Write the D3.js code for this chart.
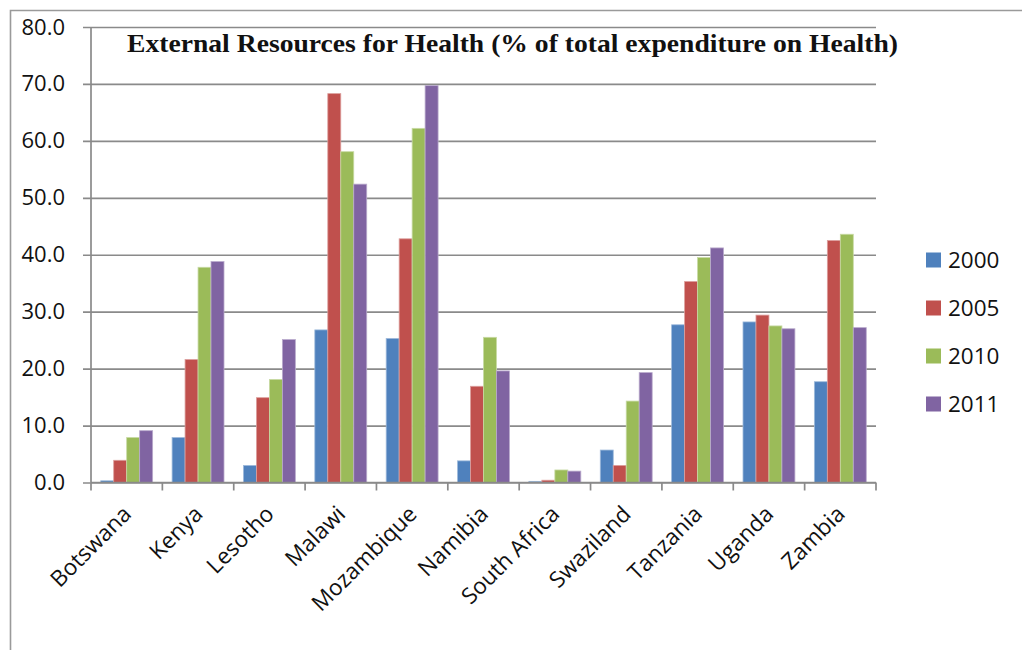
<!DOCTYPE html>
<html>
<head>
<meta charset="utf-8">
<script src="https://cdn.jsdelivr.net/npm/d3@7"></script>
<style>
  html, body { margin: 0; padding: 0; background: #fff; }
  svg { display: block; }
</style>
</head>
<body>
<svg id="chart" width="1022" height="650"></svg>
<script>
// External resources for health, % of total health expenditure
const countries = ["Botswana", "Kenya", "Lesotho", "Malawi", "Mozambique", "Namibia",
                   "South Africa", "Swaziland", "Tanzania", "Uganda", "Zambia"];
const years = ["2000", "2005", "2010", "2011"];
const values2000 = [0.3, 7.9, 3.0, 26.8, 25.3, 3.8, 0.2, 5.7, 27.7, 28.2, 17.7];
const values2005 = [3.9, 21.6, 14.9, 68.3, 42.8, 16.9, 0.4, 3.0, 35.3, 29.4, 42.5];
const values2010 = [7.9, 37.8, 18.1, 58.1, 62.2, 25.5, 2.2, 14.3, 39.5, 27.5, 43.6];
const values2011 = [9.1, 38.8, 25.1, 52.4, 69.7, 19.6, 2.0, 19.3, 41.2, 27.0, 27.2];
const yTicks = [0, 10, 20, 30, 40, 50, 60, 70, 80];
const colors = ["#4F81BD", "#C0504D", "#9BBB59", "#8064A2"];
const title = "External Resources for Health (% of total expenditure on Health)";

const series = [values2000, values2005, values2010, values2011];

const svg = d3.select("#chart");
const plot = { left: 91, right: 876, top: 27, bottom: 482.5 };
const sans = "'Open Sans', 'Liberation Sans', sans-serif";
const gridColor = "#8a8a8a";

// outer frame
svg.append("path")
  .attr("d", "M10.5,650 L10.5,10.5 L1022,10.5")
  .attr("fill", "none").attr("stroke", "#9a9a9a").attr("stroke-width", 1.6);

const x = d3.scaleBand().domain(countries).range([plot.left, plot.right]).padding(0);
const xi = d3.scaleBand().domain(years).range([0, x.bandwidth()])
  .paddingInner(0).paddingOuter(0.75);
const y = d3.scaleLinear().domain([0, 80]).range([plot.bottom, plot.top]);

// horizontal gridlines with left tick marks
const yAxis = d3.axisLeft(y).tickValues(yTicks)
  .tickSize(-(plot.right - plot.left)).tickPadding(26)
  .tickFormat(d3.format(".1f"));
const gy = svg.append("g").attr("transform", `translate(${plot.left},0)`).call(yAxis);
gy.select(".domain").remove();
gy.selectAll(".tick line").attr("x1", -8)
  .attr("stroke", gridColor).attr("stroke-width", 1.7);
gy.selectAll(".tick text")
  .attr("font-family", sans).attr("font-size", 22).attr("fill", "#111");

// vertical axis line
svg.append("line")
  .attr("x1", plot.left).attr("x2", plot.left)
  .attr("y1", y(80)).attr("y2", y(0))
  .attr("stroke", gridColor).attr("stroke-width", 1.7);

// bars
const groups = svg.append("g").selectAll("g")
  .data(series).join("g")
  .attr("fill", (d, i) => colors[i])
  .attr("stroke", (d, i) => d3.interpolateRgb(colors[i], "#ffffff")(0.45))
  .attr("stroke-width", 0.8);
groups.each(function (vals, si) {
  d3.select(this).selectAll("rect")
    .data(vals.map((v, ci) => ({ c: countries[ci], v })))
    .join("rect")
    .attr("x", d => x(d.c) + xi(years[si]))
    .attr("width", xi.bandwidth())
    .attr("y", d => y(d.v))
    .attr("height", d => y(0) - y(d.v));
});

// category axis with boundary ticks
const gx = svg.append("g");
gx.append("line")
  .attr("x1", plot.left).attr("x2", plot.right)
  .attr("y1", y(0)).attr("y2", y(0))
  .attr("stroke", gridColor).attr("stroke-width", 1.7);
const bounds = countries.map(c => x(c)).concat([plot.right]);
gx.selectAll("line.bt").data(bounds).join("line").attr("class", "bt")
  .attr("x1", d => d).attr("x2", d => d)
  .attr("y1", y(0)).attr("y2", y(0) + 8)
  .attr("stroke", gridColor).attr("stroke-width", 1.7);
gx.selectAll("text").data(countries).join("text")
  .attr("transform", d => `translate(${x(d) + x.bandwidth() / 2 + 6},${y(0) + 33}) rotate(-45)`)
  .attr("text-anchor", "end")
  .attr("font-family", sans).attr("font-size", 22.5).attr("fill", "#111")
  .text(d => d);

// title
svg.append("text")
  .attr("x", 512.5).attr("y", 52)
  .attr("text-anchor", "middle")
  .attr("font-family", "'Liberation Serif', 'DejaVu Serif', serif")
  .attr("font-weight", "bold").attr("font-size", 25).attr("fill", "#111")
  .attr("textLength", 771).attr("lengthAdjust", "spacingAndGlyphs")
  .text(title);

// legend
const legend = svg.append("g").selectAll("g").data(years).join("g")
  .attr("transform", (d, i) => `translate(926,${260 + i * 48})`);
legend.append("rect")
  .attr("x", 0).attr("y", -7.5).attr("width", 15).attr("height", 15)
  .attr("fill", (d, i) => colors[i]);
legend.append("text")
  .attr("x", 22).attr("y", 0).attr("dy", "0.35em")
  .attr("font-family", sans).attr("font-size", 22.5).attr("fill", "#111")
  .text(d => d);
</script>
</body>
</html>
